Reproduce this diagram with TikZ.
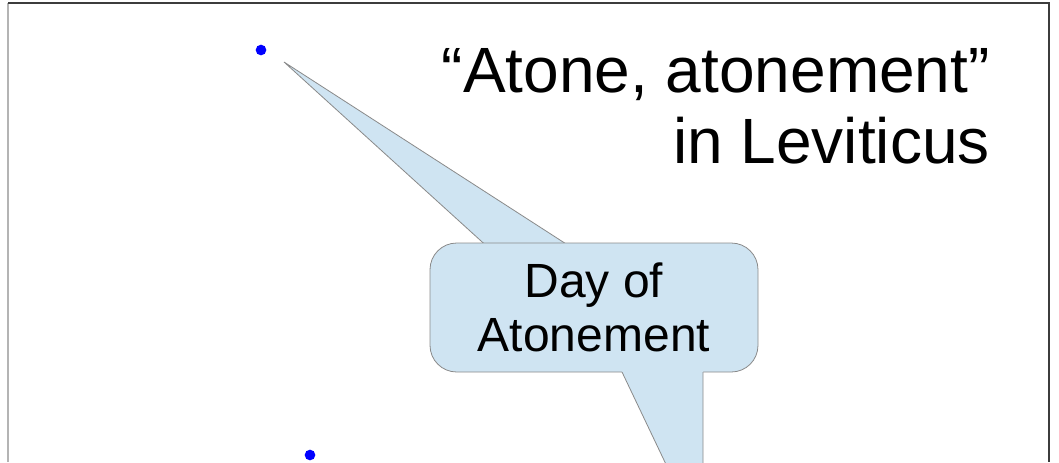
\documentclass[tikz,border=0pt]{standalone}
\usepackage{fontspec}
\setmainfont{Liberation Sans}
\usetikzlibrary{backgrounds}
\definecolor{bubblefill}{HTML}{CFE4F2}
\definecolor{bubbleline}{HTML}{8A8A8A}
\definecolor{framedark}{HTML}{3C3C3C}
\definecolor{framelight}{HTML}{B4B4B4}

\begin{document}
\begin{tikzpicture}[x=0.75pt, y=-0.75pt,
        bubble/.style={fill=bubblefill, draw=bubbleline, line width=0.6pt},
        verse/.style={circle, fill=blue, inner sep=0pt, minimum size=8pt}]
        \useasboundingbox (0,0) rectangle (1059,462);
        \clip (0,0) rectangle (1059,462);

        % slide frame
        \draw[framelight, line width=1.5pt] (8,462) -- (8,3);
        \draw[framedark, line width=1.8pt] (8,3) -- (1049,3) -- (1049,462);

        \node[verse] at (261,50)   (v1) {};
        \node[verse] at (310,455)  (v2) {};

        \node[anchor=north east, align=right, inner sep=0pt, font=\fontsize{48}{53.5}\selectfont] at (990,48) (title) {“Atone, atonement”\\in Leviticus};

        \node[bubble, rounded corners=20pt, minimum width=246pt, minimum height=96.75pt, align=center, inner sep=0pt, font=\fontsize{36}{40}\selectfont] at (594,307.5) (callout) {Day of\\Atonement};

        \coordinate (tipA) at (284,62);
        \coordinate (tipB) at (703,542);

        % upper pointer sits behind the box
        \begin{scope}[on background layer]
            \filldraw[bubble] (502,260) -- (tipA) -- (591,260) -- cycle;
        \end{scope}

        % lower pointer merges with the box
        \fill[bubblefill] (622,368) -- (622,372) -- (tipB) -- (703,368) -- cycle;
        \draw[bubbleline, line width=0.6pt] (622,372) -- (tipB) -- (703,372);
\end{tikzpicture}
\end{document}
